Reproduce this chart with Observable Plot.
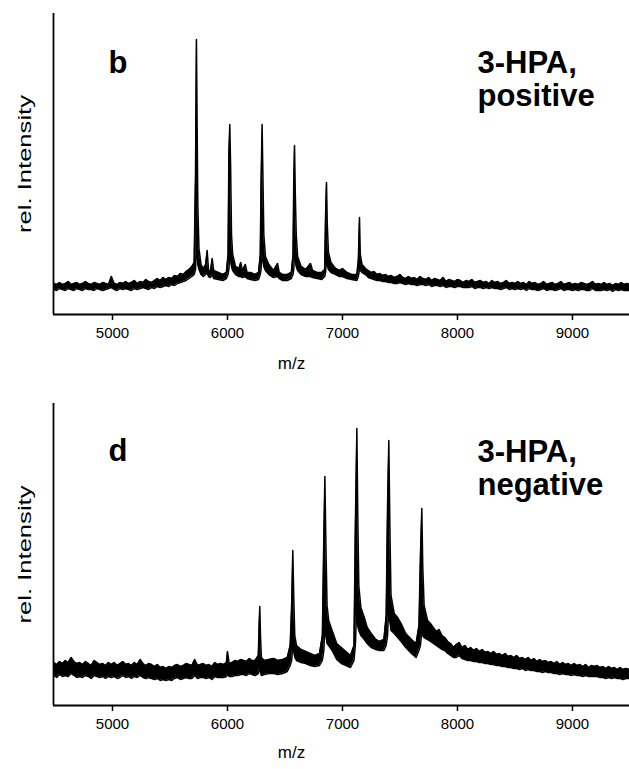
<!DOCTYPE html>
<html>
<head>
<meta charset="utf-8">
<script src="https://cdn.jsdelivr.net/npm/d3@7"></script>
<script src="https://cdn.jsdelivr.net/npm/@observablehq/plot@0.6"></script>
<style>
  html, body { margin: 0; padding: 0; background: #fff; }
  svg { display: block; }
</style>
</head>
<body>
<div id="chart"></div>
<script>
// ---- axis definition ----
const xDomain = [4487, 9496];
const xTicks = [5000, 6000, 7000, 8000, 9000];
const yLabel = "rel. Intensity";
const xLabel = "m/z";

// ---- panel b: 3-HPA, positive (relative intensity, upper / lower edge of the noisy trace) ----
const posMz = [
  4490,4515,4540,4565,4590,4615,4640,4665,4690,4715,
  4740,4765,4790,4815,4840,4865,4890,4915,4940,4965,
  4990,5015,5040,5065,5090,5115,5140,5165,5190,5215,
  5240,5265,5290,5315,5340,5365,5390,5415,5440,5465,
  5490,5515,5540,5565,5590,5615,5640,5665,5690,
  5710,5722,5726,5730,5736,5742,5752,5770,5790,5810,
  5823,5835,5850,5867,5880,5920,5960,5990,6005,6012,
  6020,6027,6035,6045,6070,6100,6115,6130,6155,6170,
  6200,6240,6270,6285,6292,6301,6308,6316,6330,6360,
  6400,6435,6450,6480,6520,6555,6570,6576,6583,6590,
  6598,6610,6640,6680,6722,6740,6780,6820,6845,6853,
  6861,6868,6878,6900,6940,6975,7000,7040,7080,7125,
  7138,7148,7155,7170,7200,
  7225,7250,7275,7300,7325,7350,7375,7400,7425,7450,
  7475,7500,7525,7550,7575,7600,7625,7650,7675,7700,
  7725,7750,7775,7800,7825,7850,7875,7900,7925,7950,
  7975,8000,8025,8050,8075,8100,8125,8150,8175,8200,
  8225,8250,8275,8300,8325,8350,8375,8400,8425,8450,
  8475,8500,8525,8550,8575,8600,8625,8650,8675,8700,
  8725,8750,8775,8800,8825,8850,8875,8900,8925,8950,
  8975,9000,9025,9050,9075,9100,9125,9150,9175,9200,
  9225,9250,9275,9300,9325,9350,9375,9400,9425,9450,
  9475,9496
];
const posHi = [
  31,30,32,30,31,33,30,31,32,30,
  31,33,31,30,32,31,30,32,31,30,
  38,31,30,32,31,33,31,32,34,31,
  33,32,35,33,32,34,36,34,37,35,
  37,36,39,38,41,40,43,45,48,
  52,140,210,275,190,110,66,50,46,50,
  64,45,42,56,44,42,40,42,60,160,
  190,150,80,60,48,46,52,44,50,42,
  42,40,42,60,130,190,140,80,58,50,
  44,51,42,40,40,42,60,130,169,120,
  80,58,48,45,51,44,42,42,45,100,
  132,90,62,52,46,44,46,42,40,40,
  55,97,60,50,46,
  44,42,43,40,41,39,40,38,39,37,
  38,40,37,36,38,36,37,35,38,36,
  35,37,34,36,35,34,37,33,35,34,
  33,35,34,32,34,33,35,32,33,34,
  32,33,31,34,32,33,31,32,34,31,
  32,31,33,31,32,30,33,31,32,30,
  31,33,30,31,32,30,31,33,30,31,
  32,30,31,30,32,31,30,31,33,30,
  31,30,32,30,31,29,31,30,32,30,
  31,30
];
const posLo = [
  25,24,26,25,24,26,25,24,26,25,
  24,26,25,25,24,26,25,24,25,26,
  27,25,24,26,25,26,25,24,26,25,
  26,27,26,25,27,26,28,27,28,29,
  28,30,29,31,32,33,34,36,38,
  40,45,60,100,60,50,45,40,38,40,
  42,38,37,40,36,35,34,36,40,45,
  60,55,48,44,40,38,38,37,38,36,
  35,34,35,40,45,60,55,48,44,40,
  37,38,36,34,34,36,40,45,60,55,
  48,44,40,38,38,37,36,35,38,42,
  55,50,45,42,40,38,38,36,35,34,
  38,45,44,42,40,
  37,36,35,34,34,33,33,32,32,31,
  31,32,31,30,31,30,30,29,30,30,
  29,30,28,29,29,28,29,27,28,28,
  27,28,28,27,27,27,28,26,27,27,
  26,27,26,27,26,26,25,26,27,25,
  26,25,26,25,26,24,26,25,25,24,
  25,26,24,25,25,24,25,26,24,25,
  25,24,25,24,25,25,24,24,26,24,
  24,24,25,24,25,23,25,24,25,24,
  24,24
];

// ---- panel d: 3-HPA, negative ----
const negMz = [
  4490,4515,4540,4565,4590,4615,4640,4665,4690,4715,
  4740,4765,4790,4815,4840,4865,4890,4915,4940,4965,
  4990,5015,5040,5065,5090,5115,5140,5165,5190,5215,
  5240,5265,5290,5315,5340,5365,5390,5415,5440,5465,
  5490,5515,5540,5565,5590,5615,5640,5665,5690,5715,
  5740,5765,5790,5815,5840,5865,5890,5915,5940,5965,
  5990,6000,6015,6040,6065,6090,6115,6140,6165,6190,
  6215,6240,
  6268,6275,6281,6287,6295,6320,6360,6400,6440,6480,
  6520,6545,6558,6568,6576,6585,6600,6640,6680,6720,
  6760,6800,6825,6838,6847,6856,6866,6880,6910,6950,
  6990,7030,7070,7100,7112,7125,7133,7142,7160,7190,
  7215,7250,7290,7320,7360,7380,7392,7403,7412,7422,
  7450,7480,7510,7550,7600,7640,7665,7678,7690,7698,
  7710,7740,
  7765,7790,7815,7840,7865,7890,7915,7940,7965,7990,
  8015,8040,8065,8090,8115,8140,8165,8190,8215,8240,
  8265,8290,8315,8340,8365,8390,8415,8440,8465,8490,
  8515,8540,8565,8590,8615,8640,8665,8690,8715,8740,
  8765,8790,8815,8840,8865,8890,8915,8940,8965,8990,
  9015,9040,9065,9090,9115,9140,9165,9190,9215,9240,
  9265,9290,9315,9340,9365,9390,9415,9440,9465,9496
];
const negHi = [
  43,41,44,42,45,43,48,44,42,43,
  41,44,42,40,45,43,41,42,40,43,
  41,43,40,42,44,41,42,40,43,41,
  46,42,40,42,41,39,41,38,39,37,
  39,38,40,41,39,40,42,41,40,46,
  40,41,42,40,41,39,43,41,42,41,
  43,54,42,43,45,44,46,45,44,47,
  45,45,
  50,80,99,70,48,45,46,47,45,46,
  48,60,100,155,110,70,60,56,54,52,
  50,52,70,170,229,160,100,85,75,62,
  58,54,50,60,180,277,190,120,98,88,
  78,72,66,64,66,90,200,265,180,110,
  92,88,82,72,66,62,80,150,197,140,
  100,85,
  82,78,74,76,70,68,64,62,58,61,
  63,58,60,56,58,55,57,54,56,53,
  54,52,54,51,52,50,52,49,50,48,
  50,47,48,46,48,45,47,44,46,44,
  45,43,44,42,44,41,43,41,42,40,
  42,40,41,39,41,38,40,39,40,38,
  39,37,39,37,38,36,38,36,37,36
];
const negLo = [
  30,28,31,29,30,29,32,30,28,29,
  28,30,29,27,30,29,28,29,27,29,
  28,29,27,28,30,28,29,27,29,28,
  30,28,27,28,27,26,27,25,26,25,
  26,25,27,28,26,27,28,27,27,30,
  27,28,28,27,28,26,29,28,28,28,
  29,31,29,29,30,30,31,31,30,32,
  31,30,
  32,34,40,35,30,31,32,32,31,32,
  34,40,45,60,55,48,45,43,42,40,
  39,40,45,55,80,70,62,60,55,46,
  42,40,38,45,60,100,80,75,70,66,
  62,58,56,55,55,60,70,100,85,75,
  72,68,64,58,52,48,55,60,75,70,
  68,66,
  64,62,60,58,56,55,52,50,48,48,
  50,47,46,45,45,44,44,43,43,42,
  42,41,41,40,40,39,39,38,38,37,
  37,36,37,35,36,35,35,34,34,33,
  34,33,33,32,32,31,32,31,31,30,
  31,30,30,29,30,29,29,29,29,28,
  28,27,28,27,28,27,27,26,27,27
];

const FONT = "'Liberation Sans', Arial, Helvetica, sans-serif";

function panel(o) {
  const n = Math.min(o.mz.length, o.hi.length, o.lo.length);
  if (n !== o.mz.length || n !== o.hi.length || n !== o.lo.length)
    console.error("length mismatch", o.letter, o.mz.length, o.hi.length, o.lo.length);
  const data = o.mz.slice(0, n).map((m, i) => ({mz: m, hi: o.hi[i], lo: o.lo[i]}));
  const svg = Plot.plot({
    width: 629,
    height: o.height,
    marginTop: o.mt,
    marginBottom: o.mb,
    marginLeft: 53,
    marginRight: 0,
    style: {fontFamily: FONT, fontSize: "15px", color: "#000", background: "#fff", overflow: "visible"},
    x: {domain: xDomain, label: null},
    y: {domain: [0, o.ymax], axis: null},
    marks: [
      Plot.axisX({ticks: xTicks, tickFormat: d => String(d), tickSize: 6, tickPadding: 7, label: null, strokeWidth: 1.5}),
      Plot.areaY(data, {x: "mz", y1: "lo", y2: "hi", fill: "#000"}),
      Plot.line(data, {x: "mz", y: "hi", stroke: "#000", strokeWidth: 1.5}),
      Plot.line(data, {x: "mz", y: "lo", stroke: "#000", strokeWidth: 1.5}),
      Plot.ruleX([xDomain[0]], {stroke: "#000", strokeWidth: 1.8}),
      Plot.ruleY([0], {stroke: "#000", strokeWidth: 2.2}),
      Plot.text([o.letter], {text: d => d, frameAnchor: "top-left", dx: 55, dy: o.letterDy,
        textAnchor: "start", lineAnchor: "bottom", fontSize: 31, fontWeight: "bold"}),
      Plot.text([o.title], {text: d => d, frameAnchor: "top-left", dx: 424, dy: o.titleDy,
        textAnchor: "start", lineAnchor: "bottom", lineHeight: 1.04, fontSize: 31, fontWeight: "bold"}),
      Plot.text([yLabel], {text: d => d, frameAnchor: "left", dx: -28, rotate: -90,
        textAnchor: "middle", lineAnchor: "middle", fontSize: 18}),
      Plot.text([xLabel], {text: d => d, frameAnchor: "bottom", dx: -50, dy: o.mzDy,
        textAnchor: "middle", lineAnchor: "bottom", fontSize: 17})
    ]
  });
  // the y label in the original is drawn wider than its natural length
  d3.select(svg).selectAll("text").filter(function() { return this.textContent === yLabel; })
    .attr("textLength", 138).attr("lengthAdjust", "spacingAndGlyphs");
  return svg;
}

const root = document.getElementById("chart");
root.appendChild(panel({
  mz: posMz, hi: posHi, lo: posLo, ymax: 301,
  height: 385, mt: 13, mb: 71,
  letter: "b", title: "3-HPA,\npositive",
  letterDy: 59, titleDy: 92, mzDy: 54
}));
root.appendChild(panel({
  mz: negMz, hi: negHi, lo: negLo, ymax: 302,
  height: 384, mt: 18, mb: 64,
  letter: "d", title: "3-HPA,\nnegative",
  letterDy: 57, titleDy: 91, mzDy: 52
}));
</script>
</body>
</html>
